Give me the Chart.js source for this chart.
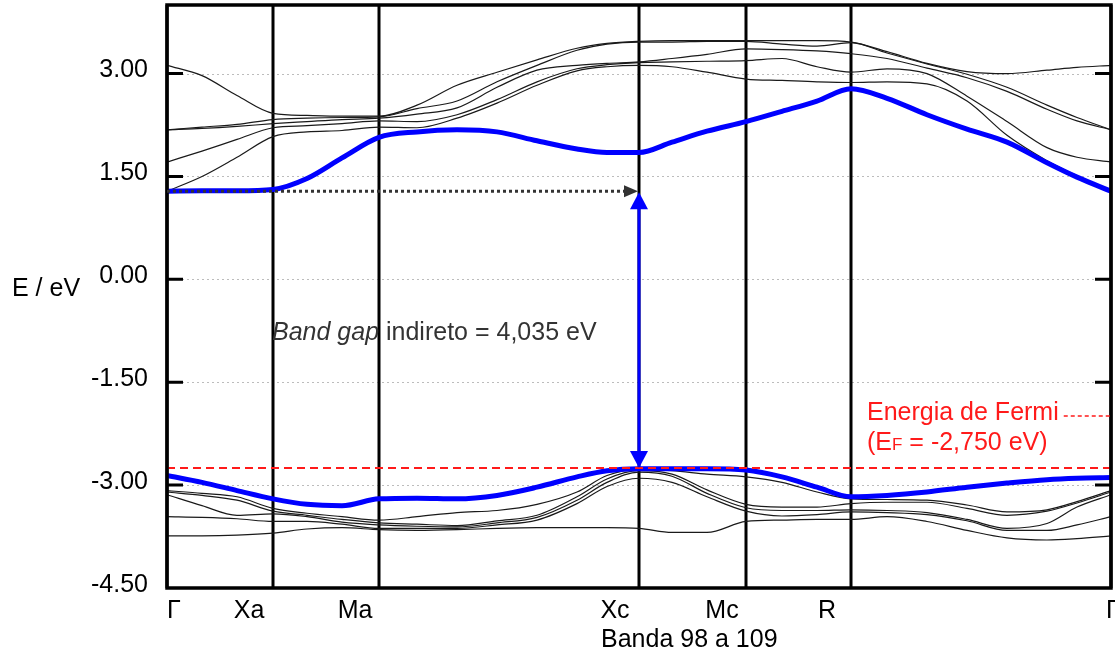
<!DOCTYPE html>
<html>
<head>
<meta charset="utf-8">
<title>Banda 98 a 109</title>
<script src="https://cdn.jsdelivr.net/npm/chart.js@4.4.0/dist/chart.umd.min.js"></script>
<style>
  html, body { margin: 0; padding: 0; background: #fff; }
  #wrap { width: 1115px; height: 651px; }
</style>
</head>
<body>
<div id="wrap"><canvas id="canvasBandas" width="1115" height="651"></canvas></div>
<script>
// caminho k (distancia ao longo do caminho, unidades arbitrarias)
var kPath = [0, 35, 70, 106, 140, 175, 212, 250, 290, 330, 370, 410, 440, 472,
  505, 540, 579, 615, 650, 684, 720, 760, 800, 840, 880, 910, 944];
var kPontos = [0, 106, 212, 472, 579, 684, 944];
var kRotulos = ["Γ", "Xa", "Ma", "Xc", "Mc", "R", "Γ"];
var yTicks = [-4.5, -3.0, -1.5, 0.0, 1.5, 3.0];

// banda de conducao mais baixa / valencia mais alta (azul)
var bandaCB = [1.285, 1.29, 1.29, 1.31, 1.47, 1.77, 2.07, 2.15, 2.18, 2.15, 2.02, 1.90, 1.85, 1.85,
  2.00, 2.16, 2.30, 2.45, 2.60, 2.78, 2.64, 2.40, 2.19, 2.00, 1.70, 1.49, 1.285];
var bandaVB = [-2.86, -2.96, -3.08, -3.20, -3.28, -3.30, -3.20, -3.19, -3.20, -3.15, -3.03, -2.88, -2.79, -2.76,
  -2.76, -2.76, -2.78, -2.88, -3.03, -3.17, -3.15, -3.10, -3.03, -2.97, -2.92, -2.90, -2.89];

// demais bandas de conducao
var cb1 = [3.12, 2.97, 2.68, 2.42, 2.39, 2.38, 2.38, 2.54, 2.83, 3.02, 3.20, 3.37, 3.44, 3.47,
  3.48, 3.48, 3.48, 3.48, 3.48, 3.46, 3.32, 3.15, 3.03, 3.00, 3.05, 3.09, 3.12];
var cb2 = [2.18, 2.22, 2.26, 2.33, 2.35, 2.36, 2.37, 2.49, 2.60, 2.88, 3.12, 3.34, 3.43, 3.46,
  3.46, 3.47, 3.47, 3.43, 3.40, 3.45, 3.30, 3.14, 2.99, 2.80, 2.54, 2.36, 2.18];
var cb3 = [2.18, 2.20, 2.23, 2.27, 2.30, 2.33, 2.35, 2.41, 2.50, 2.80, 3.05, 3.12, 3.15, 3.17,
  3.22, 3.28, 3.36, 3.35, 3.33, 3.29, 3.22, 3.08, 2.94, 2.74, 2.48, 2.31, 2.18];
var cb4 = [1.71, 1.87, 2.04, 2.21, 2.24, 2.27, 2.31, 2.30, 2.40, 2.62, 2.88, 3.07, 3.13, 3.16,
  3.17, 3.18, 3.19, 3.22, 3.10, 3.02, 3.07, 3.00, 2.67, 2.30, 1.92, 1.78, 1.71];
var cb5 = [1.285, 1.50, 1.78, 2.08, 2.15, 2.17, 2.22, 2.21, 2.35, 2.57, 2.83, 3.04, 3.10, 3.12,
  3.10, 3.02, 2.92, 2.90, 2.88, 2.87, 2.88, 2.85, 2.60, 2.10, 1.73, 1.51, 1.285];

// demais bandas de valencia
var vb1 = [-3.08, -3.12, -3.17, -3.34, -3.41, -3.46, -3.51, -3.46, -3.40, -3.37, -3.28, -3.10, -2.86, -2.77,
  -2.79, -2.84, -2.88, -2.96, -3.10, -3.20, -3.21, -3.22, -3.29, -3.39, -3.36, -3.24, -3.08];
var vb2 = [-3.10, -3.15, -3.22, -3.38, -3.44, -3.50, -3.55, -3.57, -3.59, -3.52, -3.44, -3.17, -2.91, -2.79,
  -2.84, -3.07, -3.28, -3.32, -3.32, -3.27, -3.25, -3.25, -3.34, -3.44, -3.38, -3.26, -3.10];
var vb3 = [-3.14, -3.30, -3.44, -3.42, -3.46, -3.54, -3.58, -3.60, -3.61, -3.55, -3.47, -3.22, -2.96, -2.81,
  -2.87, -3.12, -3.33, -3.37, -3.37, -3.36, -3.37, -3.40, -3.50, -3.63, -3.56, -3.32, -3.14];
var vb4 = [-3.46, -3.47, -3.49, -3.53, -3.53, -3.57, -3.63, -3.63, -3.63, -3.58, -3.51, -3.27, -3.02, -2.90,
  -2.96, -3.17, -3.38, -3.45, -3.43, -3.39, -3.40, -3.43, -3.52, -3.66, -3.66, -3.58, -3.46];
var vb5 = [-3.74, -3.74, -3.73, -3.70, -3.64, -3.62, -3.65, -3.66, -3.65, -3.63, -3.62, -3.62, -3.62, -3.63,
  -3.69, -3.69, -3.53, -3.51, -3.50, -3.50, -3.46, -3.53, -3.66, -3.77, -3.80, -3.78, -3.74];

var energiaFermi = -2.75;
var kGap = 472;        // Xc
var gapTopo = 1.285;   // minimo da BC em Γ

var fonte = "'Liberation Sans', Arial, sans-serif";

function pontos(banda) {
  var p = [];
  for (var i = 0; i < kPath.length; i++) {
    p.push({ x: kPath[i], y: banda[i] });
  }
  return p;
}

function serieFina(banda) {
  return {
    data: pontos(banda),
    borderColor: "#1a1a1a",
    borderWidth: 1.2,
    pointRadius: 0,
    cubicInterpolationMode: "monotone",
  };
}

var decoracao = {
  id: "decoracao",
  beforeDatasetsDraw: function (chart) {
    var ctx = chart.ctx, a = chart.chartArea;
    var sx = chart.scales.x, sy = chart.scales.y;
    ctx.save();
    // grade pontilhada
    ctx.strokeStyle = "#bcbcbc";
    ctx.lineWidth = 1;
    ctx.setLineDash([2, 3]);
    yTicks.forEach(function (v) {
      if (v <= sy.min) return;
      var py = Math.round(sy.getPixelForValue(v)) + 0.5;
      ctx.beginPath();
      ctx.moveTo(a.left, py);
      ctx.lineTo(a.right, py);
      ctx.stroke();
    });
    ctx.setLineDash([]);
    // linhas verticais nos pontos k
    ctx.strokeStyle = "#000";
    ctx.lineWidth = 3;
    kPontos.forEach(function (k) {
      var px = sx.getPixelForValue(k);
      ctx.beginPath();
      ctx.moveTo(px, a.top);
      ctx.lineTo(px, a.bottom);
      ctx.stroke();
    });
    ctx.restore();
  },
  afterDatasetsDraw: function (chart) {
    var ctx = chart.ctx, a = chart.chartArea;
    var sx = chart.scales.x, sy = chart.scales.y;
    ctx.save();

    // moldura
    ctx.strokeStyle = "#000";
    ctx.lineWidth = 3.5;
    ctx.strokeRect(a.left, a.top, a.right - a.left, a.bottom - a.top);

    // marcas dos ticks (dentro)
    ctx.lineWidth = 3;
    yTicks.forEach(function (v) {
      if (v <= sy.min) return;
      var py = sy.getPixelForValue(v);
      ctx.beginPath();
      ctx.moveTo(a.left, py);
      ctx.lineTo(a.left + 16, py);
      ctx.moveTo(a.right - 16, py);
      ctx.lineTo(a.right, py);
      ctx.stroke();
    });

    // seta pontilhada (gap indireto)
    var yG = sy.getPixelForValue(gapTopo);
    var xG = sx.getPixelForValue(kGap);
    ctx.strokeStyle = "#333";
    ctx.fillStyle = "#333";
    ctx.lineWidth = 3;
    ctx.setLineDash([3, 3]);
    ctx.beginPath();
    ctx.moveTo(a.left, yG);
    ctx.lineTo(xG - 14, yG);
    ctx.stroke();
    ctx.setLineDash([]);
    ctx.beginPath();
    ctx.moveTo(xG - 1, yG);
    ctx.lineTo(xG - 15, yG - 6);
    ctx.lineTo(xG - 15, yG + 6);
    ctx.closePath();
    ctx.fill();

    // seta azul dupla
    var yT = sy.getPixelForValue(gapTopo) + 1;
    var yB = sy.getPixelForValue(energiaFermi);
    ctx.strokeStyle = "#0000ff";
    ctx.fillStyle = "#0000ff";
    ctx.lineWidth = 3;
    ctx.beginPath();
    ctx.moveTo(xG, yT + 14);
    ctx.lineTo(xG, yB - 14);
    ctx.stroke();
    ctx.beginPath();
    ctx.moveTo(xG, yT);
    ctx.lineTo(xG - 9, yT + 17);
    ctx.lineTo(xG + 9, yT + 17);
    ctx.closePath();
    ctx.fill();
    ctx.beginPath();
    ctx.moveTo(xG, yB);
    ctx.lineTo(xG - 9, yB - 17);
    ctx.lineTo(xG + 9, yB - 17);
    ctx.closePath();
    ctx.fill();

    // texto do gap
    ctx.textBaseline = "alphabetic";
    ctx.textAlign = "left";
    ctx.fillStyle = "#333";
    var xt = sx.getPixelForValue(kPontos[1]) - 1;
    ctx.font = "italic 25px " + fonte;
    ctx.fillText("Band gap", xt, 340);
    xt += ctx.measureText("Band gap").width;
    ctx.font = "25px " + fonte;
    ctx.fillText(" indireto = 4,035 eV", xt, 340);

    // legenda Fermi
    ctx.fillStyle = "#ff1a1a";
    ctx.strokeStyle = "#ff1a1a";
    ctx.font = "25px " + fonte;
    ctx.fillText("Energia de Fermi", 867, 420);
    var wF = ctx.measureText("Energia de Fermi").width;
    ctx.lineWidth = 1.3;
    ctx.setLineDash([4, 3]);
    ctx.beginPath();
    ctx.moveTo(867 + wF + 5, 416);
    ctx.lineTo(a.right, 416);
    ctx.stroke();
    ctx.setLineDash([]);
    var xf = 867;
    ctx.fillText("(E", xf, 450);
    xf += ctx.measureText("(E").width;
    ctx.font = "17px " + fonte;
    ctx.fillText("F", xf, 450);
    xf += ctx.measureText("F").width;
    ctx.font = "25px " + fonte;
    ctx.fillText(" = -2,750 eV)", xf, 450);

    // rotulos dos pontos k
    ctx.fillStyle = "#000";
    ctx.font = "25px " + fonte;
    for (var i = 0; i < kPontos.length; i++) {
      var px = sx.getPixelForValue(kPontos[i]);
      if (i === 0) {
        ctx.textAlign = "left";
        ctx.fillText(kRotulos[i], a.left, 618);
      } else if (i === kPontos.length - 1) {
        ctx.textAlign = "left";
        ctx.fillText(kRotulos[i], a.right - 5, 618);
      } else {
        ctx.textAlign = "center";
        ctx.fillText(kRotulos[i], px - 24, 618);
      }
    }

    // titulos dos eixos
    ctx.textAlign = "left";
    ctx.fillText("Banda 98 a 109", 601, 647);
    ctx.fillText("E / eV", 12, 296);

    ctx.restore();
  },
};

var ctx = document.getElementById("canvasBandas").getContext("2d");

window.myChart = new Chart(ctx, {
  type: "line",
  data: {
    datasets: [
      {
        data: [{ x: kPath[0], y: energiaFermi }, { x: kPath[kPath.length - 1], y: energiaFermi }],
        borderColor: "#ff1a1a",
        borderWidth: 2,
        borderDash: [8, 5],
        pointRadius: 0,
      },
      {
        data: pontos(bandaCB),
        borderColor: "#0000ff",
        borderWidth: 5,
        pointRadius: 0,
        cubicInterpolationMode: "monotone",
      },
      {
        data: pontos(bandaVB),
        borderColor: "#0000ff",
        borderWidth: 5,
        pointRadius: 0,
        cubicInterpolationMode: "monotone",
      },
      serieFina(cb1),
      serieFina(cb2),
      serieFina(cb3),
      serieFina(cb4),
      serieFina(cb5),
      serieFina(vb1),
      serieFina(vb2),
      serieFina(vb3),
      serieFina(vb4),
      serieFina(vb5),
    ],
  },
  options: {
    responsive: false,
    animation: false,
    devicePixelRatio: 1,
    layout: { padding: { top: 5, right: 4, left: 0, bottom: 0 } },
    plugins: {
      legend: { display: false },
      tooltip: { enabled: false },
    },
    scales: {
      x: {
        type: "linear",
        min: 0,
        max: 944,
        grid: { display: false },
        border: { display: false },
        ticks: { display: false },
        afterFit: function (scale) {
          scale.height = 63;
          scale.paddingLeft = 0;
          scale.paddingRight = 0;
        },
      },
      y: {
        min: -4.5,
        max: 4.0,
        grid: { display: false, drawTicks: false },
        border: { display: false },
        afterBuildTicks: function (scale) {
          scale.ticks = yTicks.map(function (v) {
            return { value: v };
          });
        },
        afterFit: function (scale) {
          scale.width = 167;
          scale.paddingTop = 0;
          scale.paddingBottom = 0;
        },
        ticks: {
          padding: 19,
          labelOffset: -3,
          color: "#000",
          font: { family: fonte, size: 25 },
          callback: function (v) {
            return Number(v).toFixed(2);
          },
        },
      },
    },
  },
  plugins: [decoracao],
});
</script>
</body>
</html>
